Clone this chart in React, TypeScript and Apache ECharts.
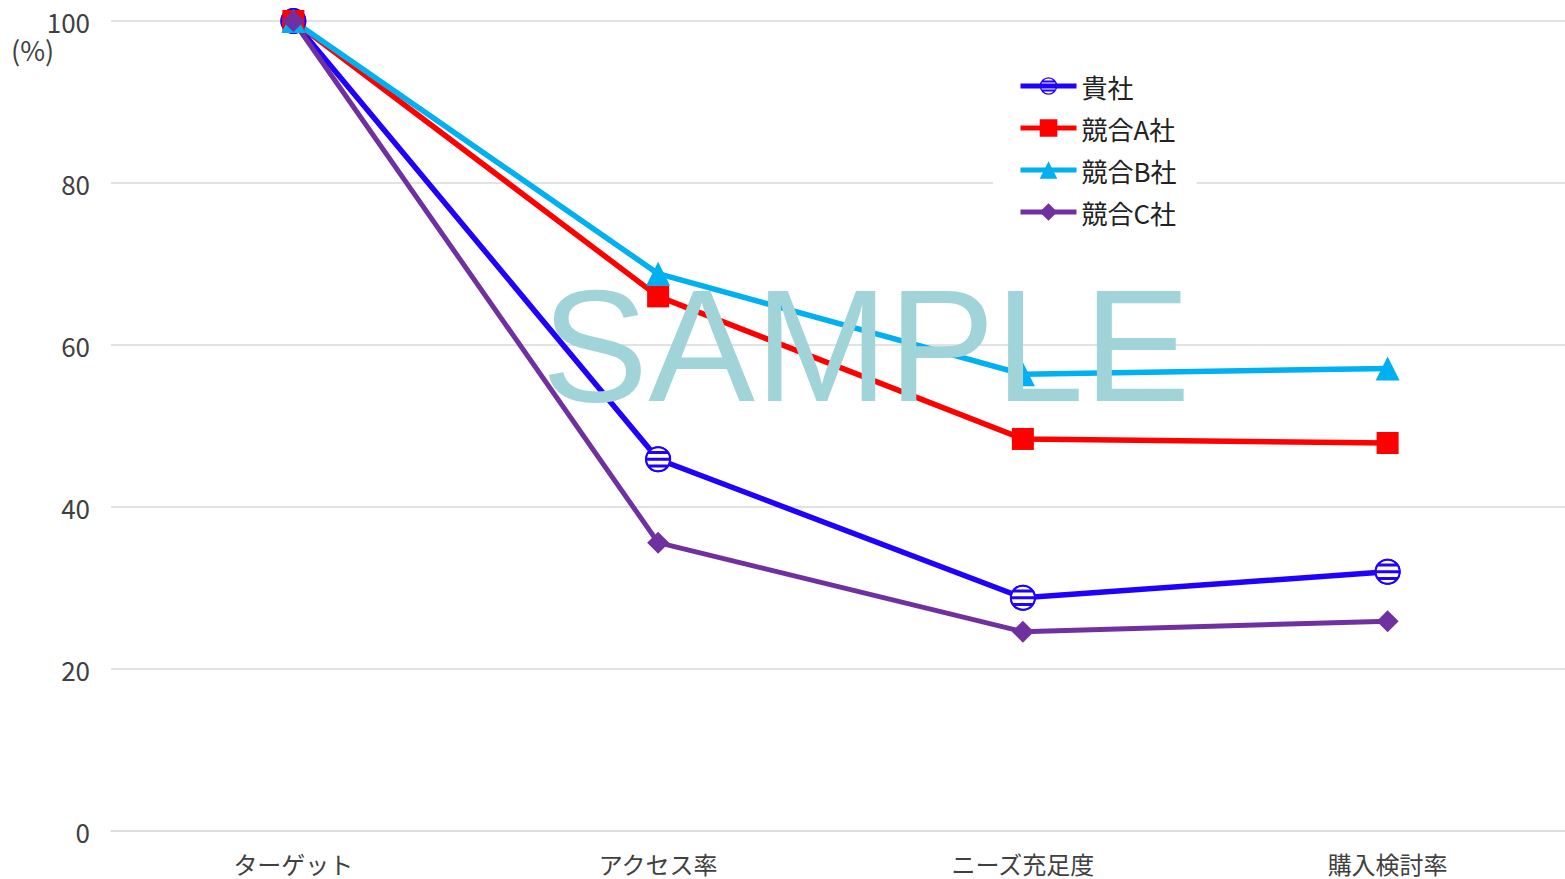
import React, { useEffect, useRef } from "react";
import * as echarts from "echarts";

const categories = ["ターゲット", "アクセス率", "ニーズ充足度", "購入検討率"];
const ourValues = [100, 45.9, 28.8, 32.0];
const rivalAValues = [100, 66.0, 48.4, 47.9];
const rivalBValues = [100, 68.8, 56.4, 57.1];
const rivalCValues = [100, 35.6, 24.6, 25.9];
const seriesNames = ["貴社", "競合A社", "競合B社", "競合C社"];
const yTicks = { min: 0, max: 100, interval: 20 };

const FONT = "'Noto Sans CJK JP', 'Noto Sans', sans-serif";
const BLUE = "#2000FF";
const RED = "#FF0000";
const CYAN = "#00B0F0";
const PURPLE = "#7030A0";

const STRIPE_PATH =
  "path://M0,13 A13,13 0 1,1 26,13 A13,13 0 1,1 0,13 Z " +
  "M2,13 A11,11 0 1,0 24,13 A11,11 0 1,0 2,13 Z " +
  "M4.24,4.8 L21.76,4.8 L23.81,7.8 L2.19,7.8 Z " +
  "M1.1,11.5 L24.9,11.5 L24.9,14.5 L1.1,14.5 Z " +
  "M2.19,18.2 L23.81,18.2 L21.76,21.2 L4.24,21.2 Z";

export default function App() {
  const ref = useRef<HTMLDivElement>(null);
  useEffect(() => {
    if (!ref.current) return;
    const chart = echarts.init(ref.current, undefined, { renderer: "svg" });
    const overlayBase = {
      type: "line",
      silent: true,
      symbolSize: 26,
      showAllSymbol: true,
      lineStyle: { opacity: 0, width: 0 },
      emphasis: { disabled: true },
      tooltip: { show: false },
    };
    chart.setOption({
      animation: false,
      backgroundColor: "#ffffff",
      textStyle: { fontFamily: FONT },
      grid: {
        left: 111,
        top: 21,
        width: 1459,
        bottom: 48,
        containLabel: false,
        outerBoundsMode: "none",
      },
      xAxis: {
        type: "category",
        data: categories,
        boundaryGap: true,
        axisLine: { show: true, lineStyle: { color: "#d9d9d9", width: 1.5 } },
        axisTick: { show: false },
        axisLabel: { color: "#404040", fontSize: 24, fontFamily: FONT, margin: 20 },
      },
      yAxis: {
        type: "value",
        min: yTicks.min,
        max: yTicks.max,
        interval: yTicks.interval,
        axisLine: { show: false },
        axisTick: { show: false },
        axisLabel: { color: "#404040", fontSize: 26, fontFamily: FONT, margin: 21 },
        splitLine: { lineStyle: { color: "#d9d9d9", width: 1.5 } },
      },
      legend: {
        left: 993,
        top: 61,
        orient: "vertical",
        data: seriesNames,
        backgroundColor: "#ffffff",
        padding: [12, 20, 12, 25],
        itemWidth: 56,
        itemHeight: 22,
        itemGap: 16,
        lineStyle: { width: 5 },
        textStyle: { color: "#222222", fontSize: 26, fontFamily: FONT },
      },
      graphic: [
        {
          type: "text",
          left: 11,
          top: 36,
          style: { text: "(%)", fontSize: 27, fontFamily: FONT, fill: "#404040" },
        },
        {
          type: "text",
          x: 866,
          y: 345,
          z: 100,
          silent: true,
          style: {
            text: "SAMPLE",
            fontSize: 160,
            fontFamily: "'Liberation Sans', Arial, sans-serif",
            fill: "#A0D4D8",
            textAlign: "center",
            textVerticalAlign: "middle",
          },
        },
      ],
      series: [
        {
          name: seriesNames[0],
          type: "line",
          data: ourValues,
          symbol: STRIPE_PATH,
          symbolSize: 26,
          itemStyle: { color: BLUE },
          lineStyle: { color: BLUE, width: 5.5 },
        },
        {
          ...overlayBase,
          name: "_white",
          data: ourValues,
          symbol: "circle",
          symbolSize: 23,
          itemStyle: { color: "#ffffff" },
        },
        {
          ...overlayBase,
          name: "_stripes",
          data: ourValues,
          symbol: STRIPE_PATH,
          itemStyle: { color: BLUE },
        },
        {
          name: seriesNames[1],
          type: "line",
          data: rivalAValues,
          symbol: "rect",
          symbolSize: 22,
          itemStyle: { color: RED },
          lineStyle: { color: RED, width: 5.5 },
        },
        {
          name: seriesNames[2],
          type: "line",
          data: rivalBValues,
          symbol: "triangle",
          symbolSize: 24,
          itemStyle: { color: CYAN },
          lineStyle: { color: CYAN, width: 5.5 },
        },
        {
          name: seriesNames[3],
          type: "line",
          data: rivalCValues,
          symbol: "diamond",
          symbolSize: 22,
          itemStyle: { color: PURPLE },
          lineStyle: { color: PURPLE, width: 5 },
        },
      ],
    });
    return () => chart.dispose();
  }, []);
  return (
    <div
      ref={ref}
      style={{ position: "fixed", left: 0, top: 0, width: 1565, height: 879 }}
    />
  );
}
